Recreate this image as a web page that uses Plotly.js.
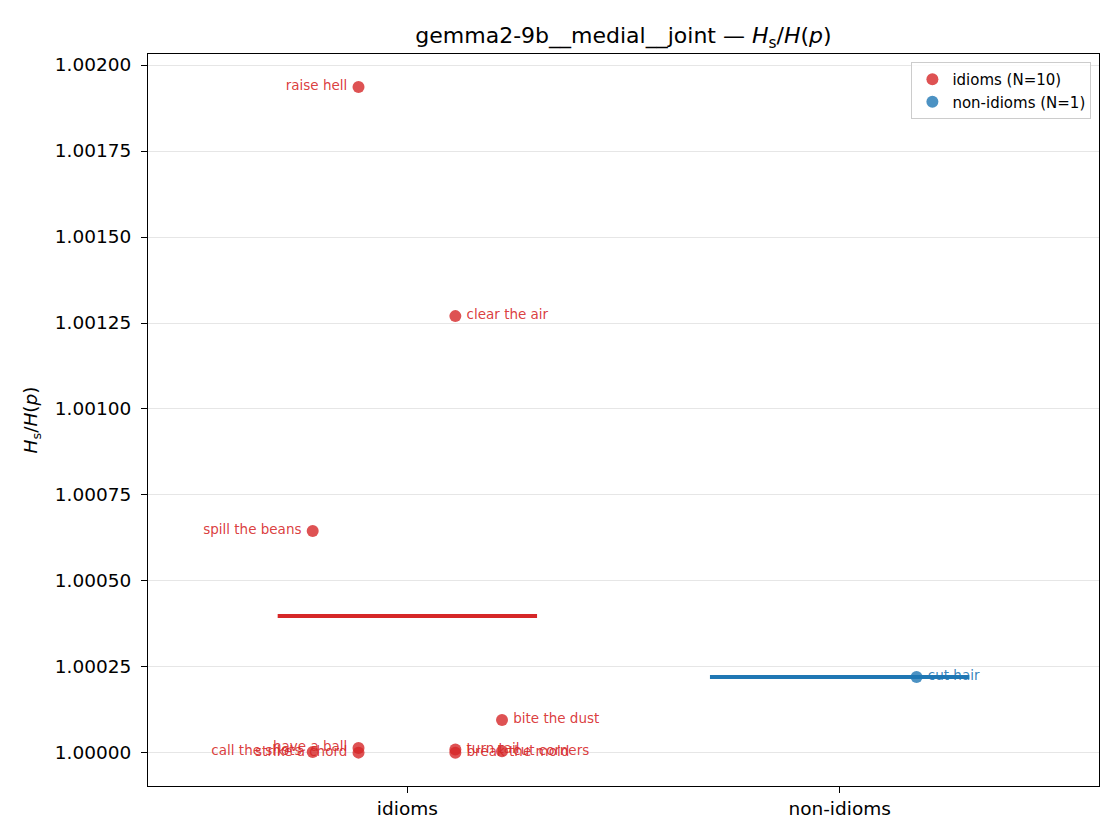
<!DOCTYPE html>
<html>
<head>
<meta charset="utf-8">
<script src="https://cdn.plot.ly/plotly-3.0.1.min.js"></script>
<style>
  body { margin: 0; background: #fff; }
  #chart { width: 1120px; height: 840px; }
</style>
</head>
<body>
<div id="chart"></div>
<script>
// groups on the x axis
var groups = ['idioms', 'non-idioms'];

// idioms: labels, values, and horizontal jitter
var idiomLabels = ['raise hell', 'clear the air', 'spill the beans', 'bite the dust', 'have a ball',
                   'strike a chord', 'call the shots', 'turn tail', 'break the mold', 'cut corners'];
var idiomValues = [1.001936, 1.001270, 1.000645, 1.000096, 1.0000145,
                   1.000001, 1.000003, 1.000010, 1.0000005, 1.000005];
var idiomJitter = [-0.113, 0.111, -0.219, 0.219, -0.113, -0.113, -0.219, 0.111, 0.111, 0.219];

// non-idioms
var nonIdiomLabels = ['cut hair'];
var nonIdiomValues = [1.000221];
var nonIdiomJitter = [0.178];

var yTicks = [1.0, 1.00025, 1.0005, 1.00075, 1.001, 1.00125, 1.0015, 1.00175, 1.002];

var RED = '#d62728', BLUE = '#1f77b4';

function mean(a) {
  var s = 0;
  for (var i = 0; i < a.length; i++) s += a[i];
  return s / a.length;
}

function pointTrace(g, labels, values, jitter, color, rgba, name) {
  return {
    x: jitter.map(function (j) { return g + j; }),
    y: values,
    text: labels.map(function (t) { return '\u2009' + t + '\u2009'; }),
    mode: 'markers+text',
    type: 'scatter',
    name: name,
    textposition: jitter.map(function (j) { return j < 0 ? 'middle left' : 'middle right'; }),
    textfont: { family: 'DejaVu Sans', size: 13.5, color: rgba },
    marker: { color: color, opacity: 0.8, size: 12 },
    cliponaxis: false,
    hoverinfo: 'x+y+text'
  };
}

function meanTrace(g, values, color) {
  var m = mean(values);
  return {
    x: [g - 0.3, g + 0.3],
    y: [m, m],
    mode: 'lines',
    type: 'scatter',
    line: { color: color, width: 4 },
    showlegend: false,
    hoverinfo: 'y'
  };
}

var data = [
  pointTrace(0, idiomLabels, idiomValues, idiomJitter, RED, 'rgba(214,39,40,0.9)',
             groups[0] + ' (N=' + idiomValues.length + ')'),
  pointTrace(1, nonIdiomLabels, nonIdiomValues, nonIdiomJitter, BLUE, 'rgba(31,119,180,0.9)',
             groups[1] + ' (N=' + nonIdiomValues.length + ')'),
  meanTrace(0, idiomValues, RED),
  meanTrace(1, nonIdiomValues, BLUE)
];

var layout = {
  width: 1120,
  height: 840,
  margin: { l: 148, r: 21, t: 54, b: 54 },
  paper_bgcolor: '#fff',
  plot_bgcolor: '#fff',
  font: { family: 'DejaVu Sans', color: '#000' },
  title: {
    text: 'gemma2-9b__medial__joint — <i>H</i><sub>s</sub>/<i>H</i>(<i>p</i>)',
    font: { size: 22 },
    x: 0.5, xref: 'paper', xanchor: 'center',
    y: 0.958, yref: 'container', yanchor: 'middle'
  },
  xaxis: {
    range: [-0.6, 1.6],
    tickvals: [0, 1],
    ticktext: groups,
    tickfont: { size: 18.5 },
    showgrid: false,
    zeroline: false,
    showline: true, mirror: true, linecolor: '#000', linewidth: 1,
    ticks: 'outside', ticklen: 6, tickcolor: '#000'
  },
  yaxis: {
    range: [0.999904, 1.002032],
    tickvals: yTicks,
    tickformat: '.5f',
    tickfont: { size: 18.5 },
    ticklabelstandoff: 6,
    title: { text: '<i>H</i><sub>s</sub>/<i>H</i>(<i>p</i>)', font: { size: 18.5 }, standoff: 12 },
    showgrid: true, gridcolor: '#e6e6e6', gridwidth: 1,
    zeroline: false,
    showline: true, mirror: true, linecolor: '#000', linewidth: 1,
    ticks: 'outside', ticklen: 6, tickcolor: '#000'
  },
  legend: {
    x: 0.992, xanchor: 'right', y: 0.989, yanchor: 'top',
    bgcolor: 'rgba(255,255,255,0.8)',
    bordercolor: '#cccccc', borderwidth: 1,
    font: { size: 15 },
    itemsizing: 'constant',
    tracegroupgap: 0
  },
  showlegend: true
};

Plotly.newPlot('chart', data, layout, { displayModeBar: false, staticPlot: true });
</script>
</body>
</html>
